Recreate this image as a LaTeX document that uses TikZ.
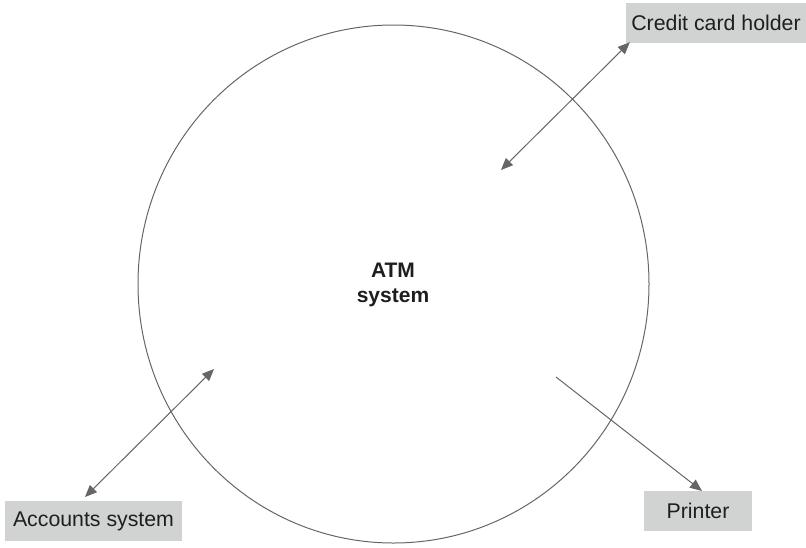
\documentclass[tikz,border=0pt]{standalone}
\usepackage{fontspec}
\setmainfont{Liberation Sans}
\usetikzlibrary{arrows.meta,calc,shapes.geometric}
\definecolor{linegray}{HTML}{666666}
\definecolor{boxgray}{HTML}{D1D3D2}
\definecolor{inkgray}{HTML}{1E1E1E}
\begin{document}
\begin{tikzpicture}[x=1pt,y=-1pt,
  actor/.style={fill=boxgray, draw=none, minimum height=40pt, inner sep=0pt,
    text=inkgray, font=\fontsize{21.3}{24}\selectfont},
  flow/.style={draw=linegray, line width=1pt,
    -{Triangle[length=12pt,width=10pt,fill=linegray]}},
  twoway/.style={flow, {Triangle[length=12pt,width=10pt,fill=linegray]}-{Triangle[length=12pt,width=10pt,fill=linegray]}}]
  \useasboundingbox (0,0) rectangle (806,547);

  % system boundary
  \node[draw=linegray, line width=1pt, ellipse, minimum width=511pt, minimum height=518pt, inner sep=0pt] (atm) at (393.5,284) {};
  \node[font=\bfseries\fontsize{21}{25}\selectfont, text=inkgray, align=center] (atmlabel) at (393,285) {ATM\\system};

  % external actors
  \node[actor, minimum width=180pt] (card) at (716,23) {Credit card holder};
  \node[actor, minimum width=177pt] (accounts) at (93.5,521) {Accounts system};
  \node[actor, minimum width=108pt] (printer) at (698,511) {Printer};

  % arrow ends
  \coordinate (cardin) at (501,170);
  \coordinate (cardout) at ($(card.south west)+(4,-1)$);
  \coordinate (accin) at (214,369);
  \coordinate (accout) at (85,497);
  \coordinate (prnin) at (556,377);
  \coordinate (prnout) at (702,491);

  \draw[twoway] (cardin) -- (cardout);
  \draw[twoway] (accin) -- (accout);
  \draw[flow] (prnin) -- (prnout);
\end{tikzpicture}
\end{document}
